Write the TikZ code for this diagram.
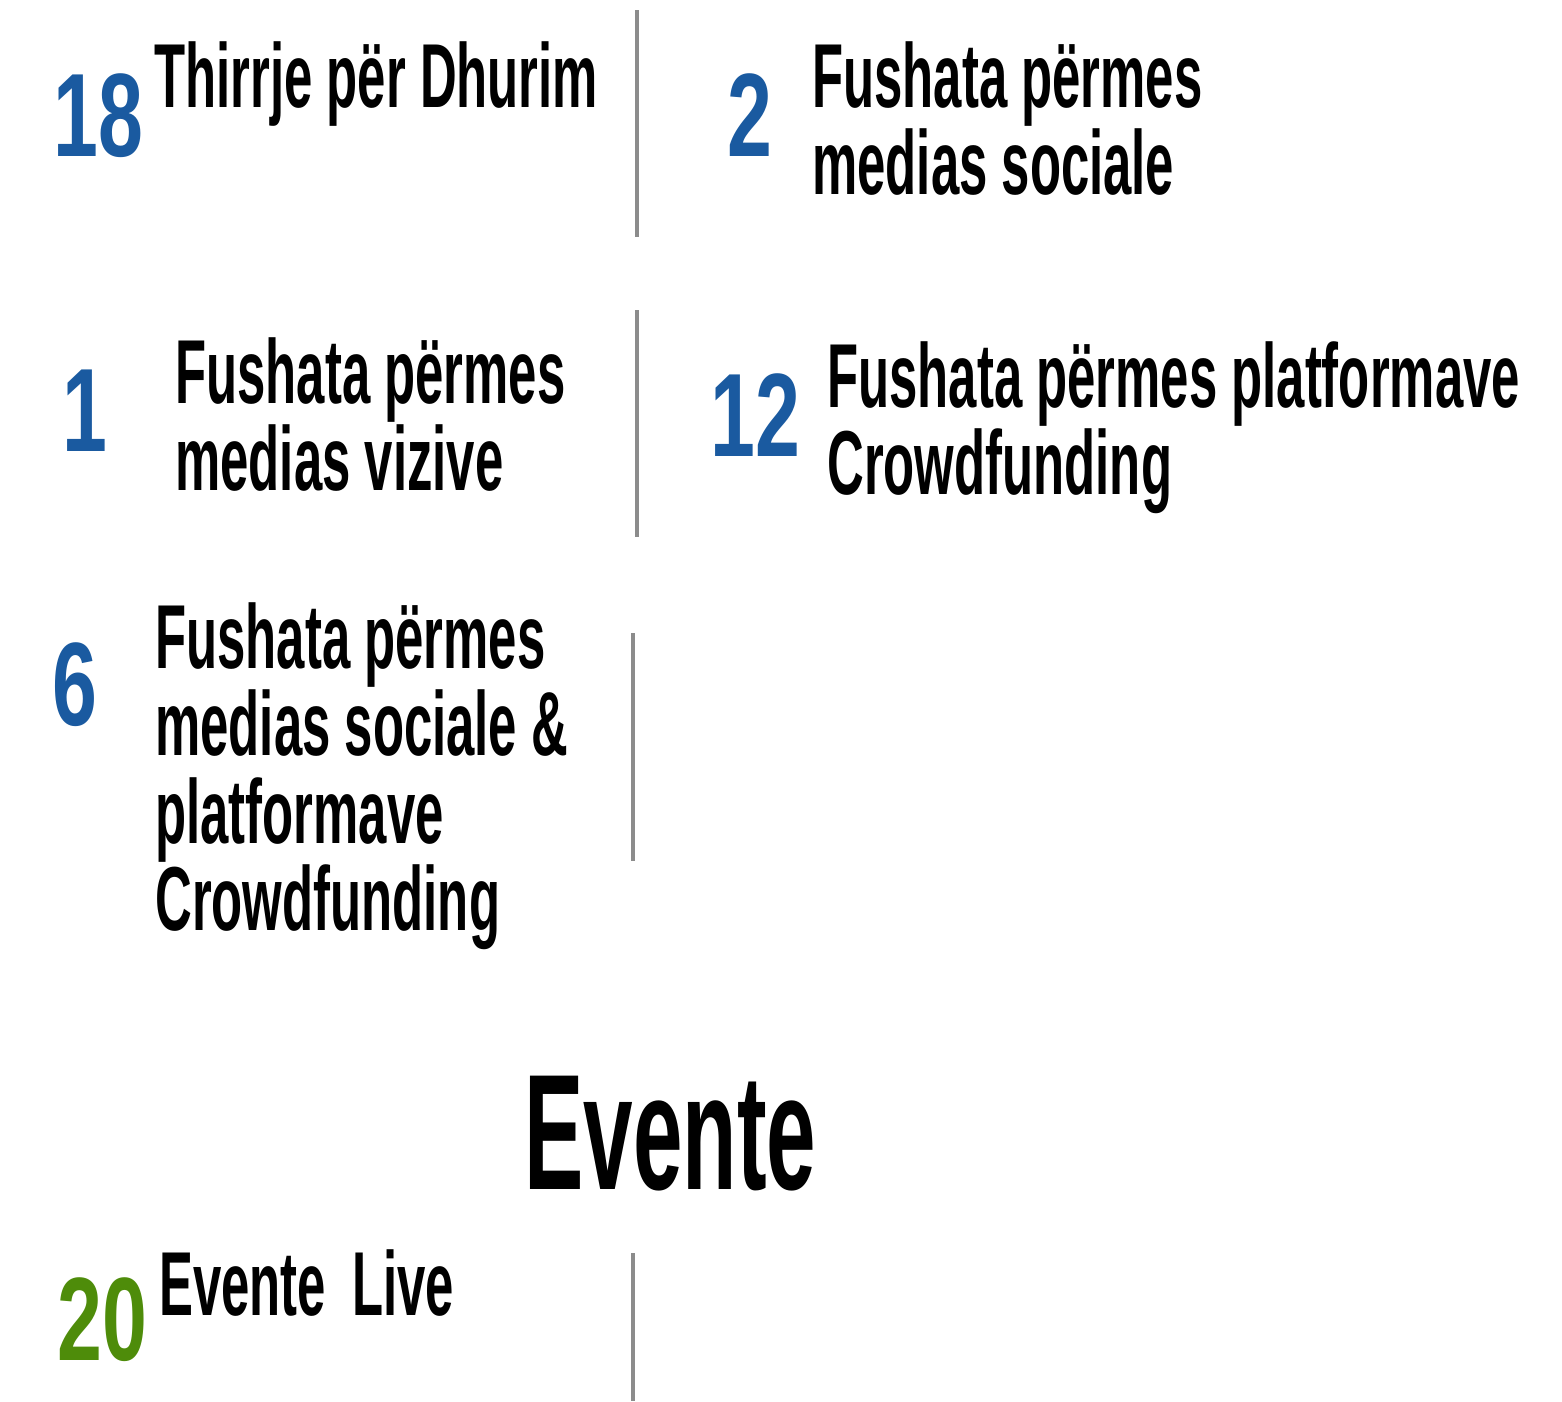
\documentclass[tikz,border=0pt]{standalone}
\usepackage{fontspec}
\newfontfamily\labelfont{Liberation Sans}[FakeStretch=0.56]
\newfontfamily\numfont{Liberation Sans}[FakeStretch=0.68]
\newfontfamily\headfont{Liberation Sans}[FakeStretch=0.54]
\usetikzlibrary{positioning}
\definecolor{numblue}{HTML}{1A5AA0}
\definecolor{numgreen}{HTML}{4E8C0A}
\definecolor{sepgray}{HTML}{8C8C8C}

\begin{document}
\begin{tikzpicture}[x=0.02cm,y=-0.02cm,
  itemtext/.style={anchor=north west,inner sep=0pt,align=left,font={\labelfont\bfseries\fontsize{51.7}{49.8}\selectfont}},
  countnum/.style={anchor=north west,inner sep=0pt,text=numblue,font={\numfont\bfseries\fontsize{67.5}{67.5}\selectfont}},
  headtext/.style={anchor=north west,inner sep=0pt,font={\headfont\bfseries\fontsize{93.8}{93.8}\selectfont}},
  divider/.style={draw=sepgray,line width=0.09cm}]

\useasboundingbox (0,0) rectangle (1562,1401);

\node[countnum] (n18) at (53,73) {18};
\node[itemtext] (t18) at (154,41) {Thirrje për Dhurim};
\draw[divider] (637,10) -- (637,237);

\node[countnum] (n2) at (727,73) {2};
\node[itemtext] (t2) at (812,41) {Fushata përmes\\medias sociale};


\node[countnum] (n1) at (62,370) {1};
\node[itemtext] (t1) at (175,337) {Fushata përmes\\medias vizive};
\draw[divider] (637,310) -- (637,537);

\node[countnum] (n12) at (710,373) {12};
\node[itemtext] (t12) at (827,341) {Fushata përmes platformave\\Crowdfunding};


\node[countnum] (n6) at (52,642) {6};
\node[itemtext] (t6) at (155,602) {Fushata përmes\\medias sociale \&\\platformave\\Crowdfunding};
\draw[divider] (633,633) -- (633,861);


\node[headtext] (ev) at (524,1076) {Evente};

\node[countnum,text=numgreen] (n20) at (57,1277) {20};
\node[itemtext] (t20) at (159,1249) {Evente\hspace{15pt}Live};
\draw[divider] (633,1253) -- (633,1401);

\end{tikzpicture}
\end{document}
